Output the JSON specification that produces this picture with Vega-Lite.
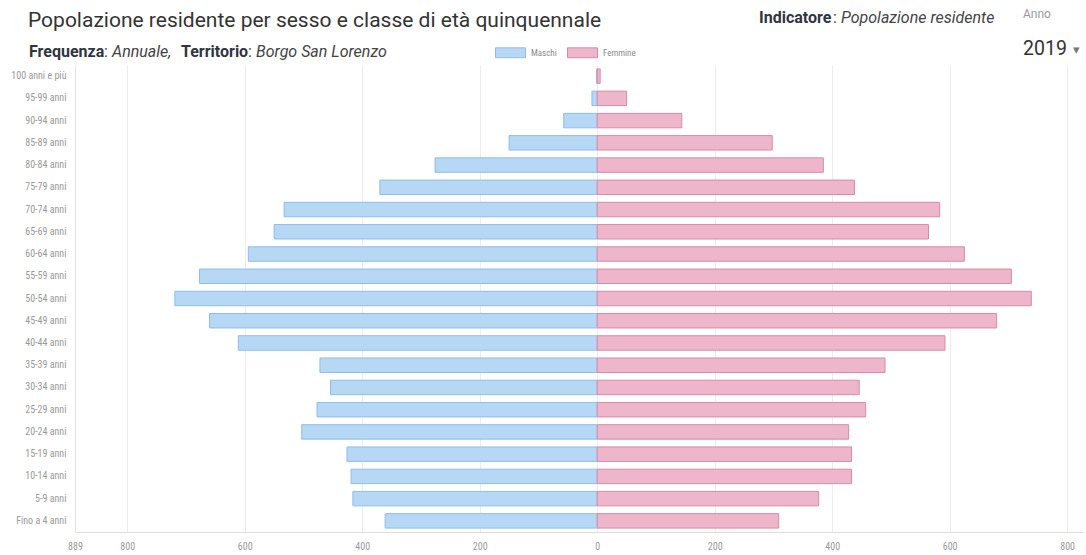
{
  "$schema": "https://vega.github.io/schema/vega-lite/v6.json",
  "width": 1008,
  "height": 467,
  "autosize": "none",
  "padding": {"left": 75, "top": 65, "right": 3, "bottom": 23},
  "background": "white",
  "config": {"view": {"stroke": null}, "font": "Roboto"},
  "datasets": {
    "pop": [
      {"eta": "100 anni e più", "sesso": "Maschi", "valore": -1},
      {"eta": "100 anni e più", "sesso": "Femmine", "valore": 5},
      {"eta": "95-99 anni", "sesso": "Maschi", "valore": -9},
      {"eta": "95-99 anni", "sesso": "Femmine", "valore": 50},
      {"eta": "90-94 anni", "sesso": "Maschi", "valore": -57},
      {"eta": "90-94 anni", "sesso": "Femmine", "valore": 144},
      {"eta": "85-89 anni", "sesso": "Maschi", "valore": -150},
      {"eta": "85-89 anni", "sesso": "Femmine", "valore": 298},
      {"eta": "80-84 anni", "sesso": "Maschi", "valore": -276},
      {"eta": "80-84 anni", "sesso": "Femmine", "valore": 385},
      {"eta": "75-79 anni", "sesso": "Maschi", "valore": -370},
      {"eta": "75-79 anni", "sesso": "Femmine", "valore": 438},
      {"eta": "70-74 anni", "sesso": "Maschi", "valore": -533},
      {"eta": "70-74 anni", "sesso": "Femmine", "valore": 583},
      {"eta": "65-69 anni", "sesso": "Maschi", "valore": -550},
      {"eta": "65-69 anni", "sesso": "Femmine", "valore": 564},
      {"eta": "60-64 anni", "sesso": "Maschi", "valore": -594},
      {"eta": "60-64 anni", "sesso": "Femmine", "valore": 625},
      {"eta": "55-59 anni", "sesso": "Maschi", "valore": -677},
      {"eta": "55-59 anni", "sesso": "Femmine", "valore": 705},
      {"eta": "50-54 anni", "sesso": "Maschi", "valore": -719},
      {"eta": "50-54 anni", "sesso": "Femmine", "valore": 739},
      {"eta": "45-49 anni", "sesso": "Maschi", "valore": -660},
      {"eta": "45-49 anni", "sesso": "Femmine", "valore": 680},
      {"eta": "40-44 anni", "sesso": "Maschi", "valore": -611},
      {"eta": "40-44 anni", "sesso": "Femmine", "valore": 592},
      {"eta": "35-39 anni", "sesso": "Maschi", "valore": -472},
      {"eta": "35-39 anni", "sesso": "Femmine", "valore": 490},
      {"eta": "30-34 anni", "sesso": "Maschi", "valore": -454},
      {"eta": "30-34 anni", "sesso": "Femmine", "valore": 446},
      {"eta": "25-29 anni", "sesso": "Maschi", "valore": -477},
      {"eta": "25-29 anni", "sesso": "Femmine", "valore": 457},
      {"eta": "20-24 anni", "sesso": "Maschi", "valore": -503},
      {"eta": "20-24 anni", "sesso": "Femmine", "valore": 428},
      {"eta": "15-19 anni", "sesso": "Maschi", "valore": -426},
      {"eta": "15-19 anni", "sesso": "Femmine", "valore": 433},
      {"eta": "10-14 anni", "sesso": "Maschi", "valore": -419},
      {"eta": "10-14 anni", "sesso": "Femmine", "valore": 433},
      {"eta": "5-9 anni", "sesso": "Maschi", "valore": -416},
      {"eta": "5-9 anni", "sesso": "Femmine", "valore": 377},
      {"eta": "Fino a 4 anni", "sesso": "Maschi", "valore": -361},
      {"eta": "Fino a 4 anni", "sesso": "Femmine", "valore": 309}
    ]
  },
  "layer": [
    {
      "data": {"name": "pop"},
      "mark": {"type": "bar", "strokeWidth": 1, "fillOpacity": 1},
      "encoding": {
        "y": {
          "field": "eta",
          "type": "nominal",
          "sort": ["100 anni e più", "95-99 anni", "90-94 anni", "85-89 anni", "80-84 anni", "75-79 anni", "70-74 anni", "65-69 anni", "60-64 anni", "55-59 anni", "50-54 anni", "45-49 anni", "40-44 anni", "35-39 anni", "30-34 anni", "25-29 anni", "20-24 anni", "15-19 anni", "10-14 anni", "5-9 anni", "Fino a 4 anni"],
          "scale": {"paddingInner": 0.35, "paddingOuter": 0.175},
          "axis": {
            "title": null,
            "ticks": false,
            "domain": true,
            "domainColor": "#e2e2e2",
            "labelPadding": 9,
            "labelFont": "Liberation Sans Narrow, Roboto Condensed, Roboto",
            "labelFontSize": 10,
            "labelColor": "#9a9a9a"
          }
        },
        "x": {
          "field": "valore",
          "type": "quantitative",
          "stack": null,
          "scale": {"domain": [-889, 827], "nice": false, "zero": false},
          "axis": {
            "title": null,
            "values": [-889, -800, -600, -400, -200, 0, 200, 400, 600, 800],
            "labelExpr": "format(abs(datum.value), 'd')",
            "labelOverlap": false,
            "labelFlush": false,
            "ticks": false,
            "grid": true,
            "gridColor": "#ececec",
            "domainColor": "#dddddd",
            "labelPadding": 9,
            "labelFont": "Liberation Sans Narrow, Roboto Condensed, Roboto",
            "labelFontSize": 10,
            "labelColor": "#9a9a9a"
          }
        },
        "color": {
          "field": "sesso",
          "type": "nominal",
          "scale": {"domain": ["Maschi", "Femmine"], "range": ["#b7d8f4", "#eeb6ca"]},
          "legend": {
            "title": null,
            "orient": "none",
            "legendX": 420,
            "legendY": -28,
            "direction": "horizontal",
            "symbolType": "M-1,-0.33H1V0.33H-1Z",
            "symbolSize": 900,
            "symbolStrokeWidth": 1,
            "labelFont": "Liberation Sans Narrow, Roboto Condensed, Roboto",
            "labelFontSize": 9,
            "labelColor": "#8a8a8a",
            "labelOffset": 5,
            "columnPadding": 8
          }
        },
        "stroke": {
          "field": "sesso",
          "type": "nominal",
          "scale": {"domain": ["Maschi", "Femmine"], "range": ["#8fbde9", "#d98aa8"]},
          "legend": {
            "title": null,
            "orient": "none",
            "legendX": 420,
            "legendY": -28,
            "direction": "horizontal",
            "symbolType": "M-1,-0.33H1V0.33H-1Z",
            "symbolSize": 900,
            "symbolStrokeWidth": 1,
            "labelFont": "Liberation Sans Narrow, Roboto Condensed, Roboto",
            "labelFontSize": 9,
            "labelColor": "#8a8a8a",
            "labelOffset": 5,
            "columnPadding": 8
          }
        }
      }
    },
    {
      "data": {"values": [{}]},
      "mark": {"type": "text", "text": "Popolazione residente per sesso e classe di età quinquennale", "x": -47, "y": -38, "align": "left", "baseline": "alphabetic", "fontSize": 21, "font": "Roboto", "color": "#333333"},
      "encoding": {}
    },
    {
      "data": {"values": [{}]},
      "mark": {"type": "text", "text": "Frequenza", "x": -46, "y": -8, "align": "left", "baseline": "alphabetic", "fontSize": 16, "fontWeight": "bold", "font": "Roboto", "color": "#2f3640"},
      "encoding": {}
    },
    {
      "data": {"values": [{}]},
      "mark": {"type": "text", "text": ":", "x": 29, "y": -8, "align": "left", "baseline": "alphabetic", "fontSize": 16, "font": "Roboto", "color": "#444444"},
      "encoding": {}
    },
    {
      "data": {"values": [{}]},
      "mark": {"type": "text", "text": "Annuale,", "x": 37, "y": -8, "align": "left", "baseline": "alphabetic", "fontSize": 16, "fontStyle": "italic", "font": "Roboto", "color": "#444444"},
      "encoding": {}
    },
    {
      "data": {"values": [{}]},
      "mark": {"type": "text", "text": "Territorio", "x": 106, "y": -8, "align": "left", "baseline": "alphabetic", "fontSize": 16, "fontWeight": "bold", "font": "Roboto", "color": "#2f3640"},
      "encoding": {}
    },
    {
      "data": {"values": [{}]},
      "mark": {"type": "text", "text": ":", "x": 173, "y": -8, "align": "left", "baseline": "alphabetic", "fontSize": 16, "font": "Roboto", "color": "#444444"},
      "encoding": {}
    },
    {
      "data": {"values": [{}]},
      "mark": {"type": "text", "text": "Borgo San Lorenzo", "x": 181, "y": -8, "align": "left", "baseline": "alphabetic", "fontSize": 16, "fontStyle": "italic", "font": "Roboto", "color": "#444444"},
      "encoding": {}
    },
    {
      "data": {"values": [{}]},
      "mark": {"type": "text", "text": "Indicatore", "x": 684, "y": -42, "align": "left", "baseline": "alphabetic", "fontSize": 16, "fontWeight": "bold", "font": "Roboto", "color": "#2f3640"},
      "encoding": {}
    },
    {
      "data": {"values": [{}]},
      "mark": {"type": "text", "text": ":", "x": 758, "y": -42, "align": "left", "baseline": "alphabetic", "fontSize": 16, "font": "Roboto", "color": "#444444"},
      "encoding": {}
    },
    {
      "data": {"values": [{}]},
      "mark": {"type": "text", "text": "Popolazione residente", "x": 766, "y": -42, "align": "left", "baseline": "alphabetic", "fontSize": 16, "fontStyle": "italic", "font": "Roboto", "color": "#444444"},
      "encoding": {}
    },
    {
      "data": {"values": [{}]},
      "mark": {"type": "text", "text": "Anno", "x": 948, "y": -47, "align": "left", "baseline": "alphabetic", "fontSize": 12, "font": "Roboto", "color": "#9a9a9a"},
      "encoding": {}
    },
    {
      "data": {"values": [{}]},
      "mark": {"type": "text", "text": "2019", "x": 948, "y": -10, "align": "left", "baseline": "alphabetic", "fontSize": 19.5, "font": "Roboto", "color": "#333333"},
      "encoding": {}
    },
    {
      "data": {"values": [{}]},
      "mark": {"type": "text", "text": "▾", "x": 998, "y": -15, "align": "left", "baseline": "middle", "fontSize": 13, "font": "DejaVu Sans", "color": "#777777"},
      "encoding": {}
    }
  ]
}
